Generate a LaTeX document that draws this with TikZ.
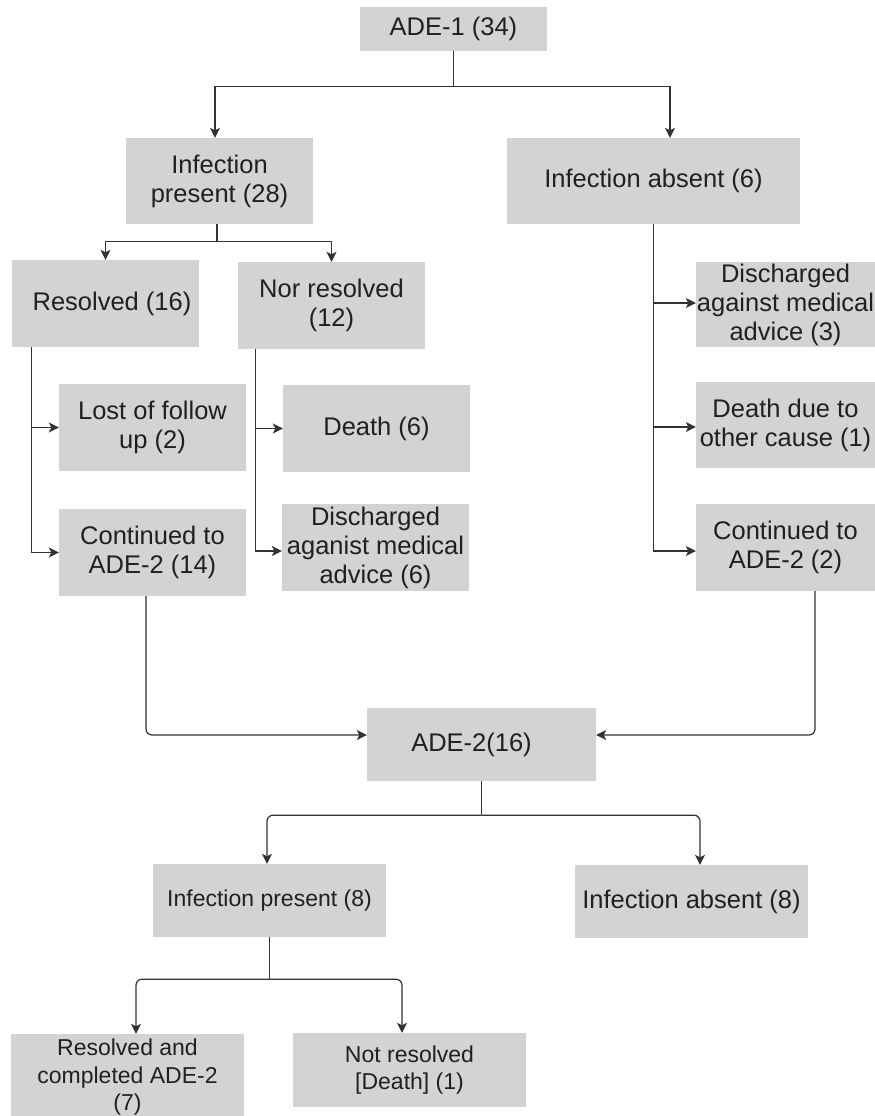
\documentclass[tikz,border=0pt]{standalone}
\usepackage{fontspec}
\setmainfont{Liberation Sans}
\usepackage{tikz}
\usetikzlibrary{arrows.meta}
\usetikzlibrary{positioning}

\definecolor{boxgray}{RGB}{209,211,212}
\definecolor{inkgray}{RGB}{35,31,32}
\definecolor{linegray}{RGB}{50,50,50}

\begin{document}
\begin{tikzpicture}[x=1pt, y=-1pt,
		box/.style={fill=boxgray, text=inkgray, align=center, inner sep=0pt, font=\fontsize{25.5}{29}\selectfont},
		smallbox/.style={box, font=\fontsize{23}{27.5}\selectfont},
		line/.style={draw=linegray, line width=1.2pt},
		arr/.style={line, -{Stealth[length=10pt, width=10pt, inset=2.5pt]}}]
		\useasboundingbox (0,0) rectangle (875,1116);
		
		\node[box, minimum width=187, minimum height=44] (ade1) at (453.5,29) {ADE-1 (34)};
		\node[box, minimum width=187, minimum height=86] (infp) at (219.5,181) {Infection\\present (28)};
		\node[box, minimum width=293, minimum height=86] (infa) at (653.5,181) {Infection absent (6)};
		
		\node[box, minimum width=187, minimum height=87] (res) at (105.5,303.5) {\hspace{13pt}Resolved (16)};
		\node[box, minimum width=187, minimum height=87] (nres) at (331.5,305.5) {Nor resolved\\(12)};
		\node[box, minimum width=187, minimum height=87] (lost) at (152.5,427.5) {Lost of follow\\up (2)};
		\node[box, minimum width=187, minimum height=87] (cont14) at (152.5,552.5) {Continued to\\ADE-2 (14)};
		\node[box, minimum width=187, minimum height=87] (death6) at (376.5,428.5) {Death (6)};
		\node[box, minimum width=187, minimum height=87] (disc6) at (375.5,547.5) {Discharged\\aganist medical\\advice (6)};
		
		\node[box, minimum width=179, minimum height=85] (disc3) at (785.5,304.5) {Discharged\\against medical\\advice (3)};
		\node[box, minimum width=179, minimum height=86] (death1) at (785.5,425) {Death due to\\other cause (1)};
		\node[box, minimum width=179, minimum height=87] (cont2) at (785.5,547.5) {Continued to\\ADE-2 (2)};
		
		\node[box, minimum width=229, minimum height=73] (ade2) at (481.5,744.5) {ADE-2(16)\hspace{20pt}};
		\node[smallbox, minimum width=233, minimum height=73] (infp8) at (269.5,900.5) {Infection present (8)};
		\node[box, minimum width=233, minimum height=73] (infa8) at (691.5,901.5) {Infection absent (8)};
		\node[smallbox, minimum width=233, minimum height=87] (resc) at (127.5,1077.5) {Resolved and\\completed ADE-2\\(7)};
		\node[smallbox, minimum width=233, minimum height=74] (nres1) at (409.5,1070) {Not resolved\\{[Death]} (1)};
		
		% ADE-1 split
		\draw[line] (ade1.south) -- ++(0,35) coordinate (j1);
		\draw[arr] (j1) -| ([xshift=-4.5pt]infp.north);
		\draw[arr] (j1) -| ([xshift=16.5pt]infa.north);
		
		% infection present
		\draw[line] ([xshift=-2.5pt]infp.south) -- ++(0,17) coordinate (j2);
		\draw[arr] (j2) -| (res.north);
		\draw[arr] (j2) -| (nres.north);
		
		\draw[arr] ([xshift=20pt]res.south west) |- (lost.west);
		\draw[arr] ([xshift=20pt]res.south west) |- (cont14.west);
		\draw[arr] ([xshift=18pt]nres.south west) |- (death6.west);
		\draw[arr] ([xshift=18pt]nres.south west) |- ([yshift=-3.5pt]disc6.west);
		
		% infection absent
		\draw[arr] (infa.south) |- ([yshift=1.5pt]disc3.west);
		\draw[arr] (infa.south) |- ([yshift=-2pt]death1.west);
		\draw[arr] (infa.south) |- ([yshift=-3.5pt]cont2.west);
		
		% on to ADE-2
		\draw[arr, rounded corners=6pt] ([xshift=-6.5pt]cont14.south) |- ([yshift=9.5pt]ade2.west);
		\draw[arr, rounded corners=6pt] ([xshift=29.5pt]cont2.south) |- ([yshift=9.5pt]ade2.east);
		
		% ADE-2 split
		\draw[line] (ade2.south) -- ++(0,34) coordinate (j3);
		\draw[arr, rounded corners=6pt] (j3) -| ([xshift=-2.5pt]infp8.north);
		\draw[arr, rounded corners=6pt] (j3) -| ([xshift=8.5pt]infa8.north);
		
		\draw[line] (infp8.south) -- ++(0,42) coordinate (j4);
		\draw[arr, rounded corners=6pt] (j4) -| ([xshift=8.5pt]resc.north);
		\draw[arr, rounded corners=6pt] (j4) -| ([xshift=-7.5pt]nres1.north);
\end{tikzpicture}
\end{document}
